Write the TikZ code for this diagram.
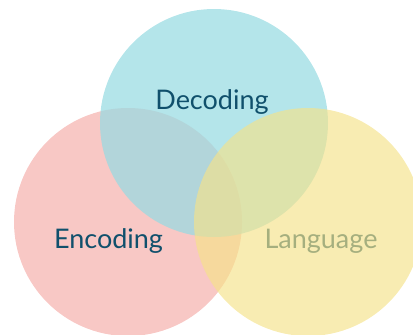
\documentclass[tikz,border=0pt]{standalone}
\usepackage{fontspec}
\setmainfont{Lato}
\definecolor{decblue}{RGB}{152,219,226}
\definecolor{encpink}{RGB}{245,181,177}
\definecolor{langyellow}{RGB}{245,226,137}
\definecolor{labelteal}{RGB}{16,80,108}
\begin{document}
\begin{tikzpicture}[x=1pt,y=-1pt,
		label/.style={font=\fontsize{27}{30}\selectfont,text=labelteal,anchor=base,inner sep=0pt},
		ring/.style={line width=0}]
			\useasboundingbox (0,0) rectangle (413,335);
			\coordinate (E) at (128,222);
			\coordinate (D) at (214,123);
			\coordinate (L) at (308,222);
			\fill [encpink,fill opacity=0.75] (E) circle (114);
			\fill [decblue,fill opacity=0.73] (D) circle (114);
			\node[label] (enc) at (108.5,248) {Encoding};
			\node[label] (lang) at (321,248) {Language};
			\fill [langyellow,fill opacity=0.65] (L) circle (114);
			\node[label] (dec) at (212,109) {Decoding};
		\end{tikzpicture}
\end{document}
